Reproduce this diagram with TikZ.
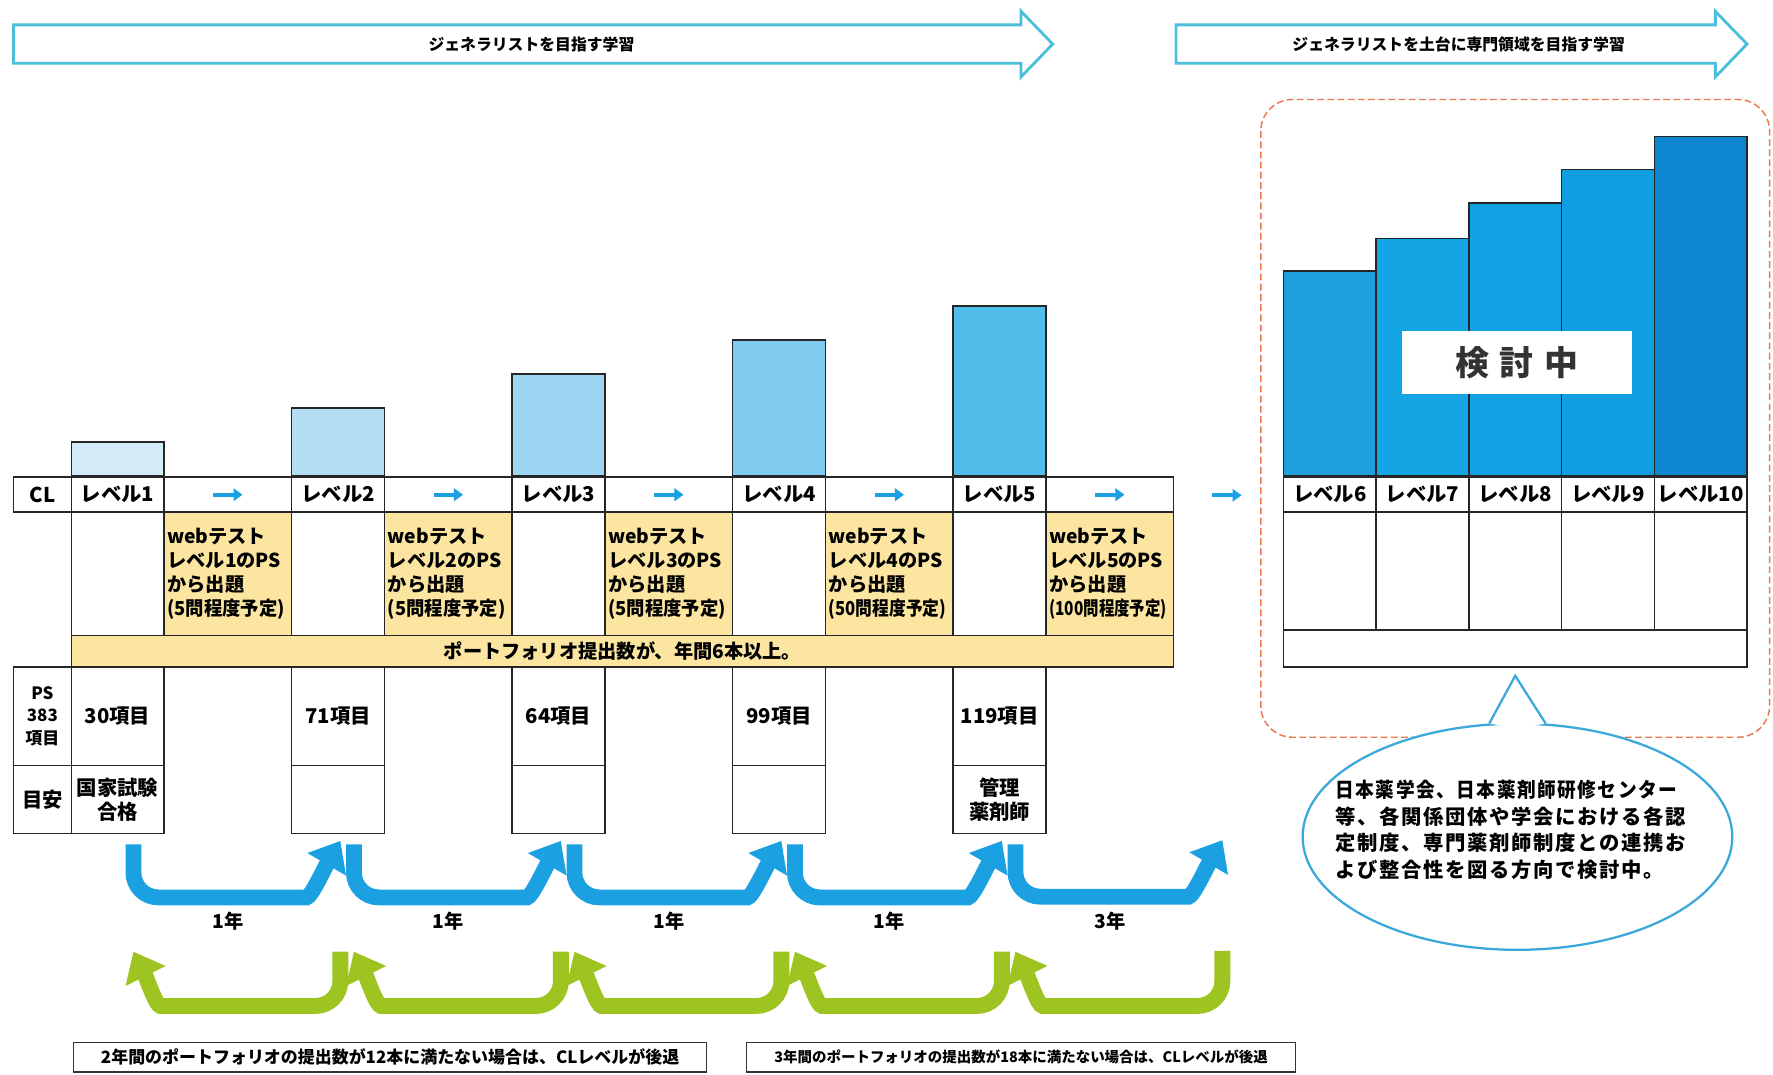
\documentclass[tikz,border=0pt]{standalone}
\usepackage{fontspec}
\usepackage{graphicx}
\setmainfont{Noto Sans CJK JP}
\newfontfamily\notefont{Noto Sans CJK JP}[LetterSpace=8]
\usetikzlibrary{arrows.meta,shapes.geometric}

\definecolor{aqualine}{HTML}{4BBFDA}
\definecolor{stepblue}{HTML}{1BA1E2}
\definecolor{backgreen}{HTML}{9DC420}
\definecolor{webyellow}{HTML}{FBE5A0}
\definecolor{planred}{HTML}{E9794F}
\definecolor{notecyan}{HTML}{3AA8DA}
\definecolor{lvA}{HTML}{D4EBF8}
\definecolor{lvB}{HTML}{B5DEF5}
\definecolor{lvC}{HTML}{9DD5F3}
\definecolor{lvD}{HTML}{80CBF0}
\definecolor{lvE}{HTML}{50BCEA}
\definecolor{lvF}{HTML}{1E9EDC}
\definecolor{lvG}{HTML}{14A5E5}
\definecolor{lvH}{HTML}{11A2E3}
\definecolor{lvI}{HTML}{0F9EE0}
\definecolor{lvJ}{HTML}{0C87CF}

\begin{document}
\begin{tikzpicture}[x=1pt, y=-1pt, >=stealth,
    cell/.style={draw=black!85, line width=1.3pt, inner sep=0pt, minimum width=82pt, align=center,
      font=\bfseries\fontsize{18}{21}\selectfont},
    gapcell/.style={cell, minimum width=113pt},
    webcell/.style={gapcell, fill=webyellow, minimum height=109pt, align=left,
      text width=107pt, font=\bfseries\fontsize{17}{21}\selectfont},
    bar/.style={draw=black!85, line width=1.3pt, minimum width=82pt, inner sep=0pt, anchor=south},
    goalarrow/.style={draw=aqualine, line width=2.5pt, fill=white, line join=miter},
    goaltext/.style={font=\bfseries\fontsize{14}{16}\selectfont},
    tinyarrow/.style={stepblue, line width=3.5pt, -{Triangle[length=8pt,width=11pt]}},
    upstep/.style={stepblue, line width=14pt, rounded corners=22pt, -{Triangle[length=24pt,width=38pt]}},
    downstep/.style={upstep, backgreen},
    yearlbl/.style={font=\bfseries\fontsize{17}{20}\selectfont},
    rulebox/.style={draw=black!80, line width=1pt, minimum height=26pt, inner sep=0pt}
  ]
    \fill[white] (0,0) rectangle (1568,950);
    \useasboundingbox (0,0) rectangle (1568,950);

    % learning stages
    \draw[goalarrow] (12,22) -- (903,22) -- (903,10) -- (931,39) -- (903,68) -- (903,56) -- (12,56) -- cycle;
    \node[goaltext] (goal1) at (470,39) {ジェネラリストを目指す学習};
    \draw[goalarrow] (1040,22) -- (1517,22) -- (1517,10) -- (1545,39) -- (1517,68) -- (1517,56) -- (1040,56) -- cycle;
    \node[goaltext] (goal2) at (1290,39) {ジェネラリストを土台に専門領域を目指す学習};

    \draw[planred, line width=1.3pt, dash pattern=on 6pt off 3pt, rounded corners=28pt] (1115,88) rectangle (1565,652);

    % levels 1-5
    \node[cell, minimum width=51pt, minimum height=31pt] (cl) at (37.5,437.5) {CL};
    \foreach \i/\q/\nps/\col/\ma in {1/5/30/lvA/{国家試験\\合格}, 2/5/71/lvB/{}, 3/5/64/lvC/{}, 4/50/99/lvD/{}, 5/100/119/lvE/{管理\\薬剤師}} {
        \pgfmathsetmacro{\cx}{104+195*(\i-1)}
        \node[cell, minimum height=31pt] (lv\i) at (\cx,437.5) {レベル\i};
        \node[bar, fill=\col, minimum height=30*\i] (bar\i) at (lv\i.north) {};
        \node[gapcell, minimum height=31pt] (gap\i) at (\cx+97.5,437.5) {};
        \node[cell, minimum height=109pt] (blank\i) at (\cx,507.5) {};
        \node[webcell] (web\i) at (\cx+97.5,507.5) {webテスト\\レベル\i のPS\\から出題\\\resizebox{104pt}{\height}{(\q 問程度予定)}};
        \node[cell, minimum height=87pt] (ps\i) at (\cx,633.5) {\nps 項目};
        \node[cell, minimum height=60pt] (ma\i) at (\cx,707) {\ma};
    }
    \node[cell, fill=webyellow, minimum width=975pt, minimum height=28pt, font=\bfseries\fontsize{17}{20}\selectfont] (pf) at (550.5,576) {ポートフォリオ提出数が、年間6本以上。};
    \node[cell, minimum width=51pt, minimum height=87pt, font=\bfseries\fontsize{15}{20}\selectfont] (psh) at (37.5,633.5) {PS\\383\\項目};
    \node[cell, minimum width=51pt, minimum height=60pt] (mah) at (37.5,707) {目安};

    % levels 6-10
    \foreach \j/\h/\col in {6/181/lvF, 7/210/lvG, 8/241/lvH, 9/271/lvI, 10/300/lvJ} {
        \pgfmathsetmacro{\cx}{1176+82*(\j-6)}
        \node[cell, minimum height=31pt] (lv\j) at (\cx,437.5) {レベル\j};
        \node[bar, fill=\col, minimum height=\h] (bar\j) at (lv\j.north) {};
        \node[cell, minimum height=104pt] (rw\j) at (\cx,505) {};
    }
    \node[cell, minimum width=410pt, minimum height=33pt] (rbot) at (1340,573.5) {};
    \node[fill=white, minimum width=203pt, minimum height=55pt, text=black!80, font=\bfseries\fontsize{30}{30}\selectfont] (kento) at (1341.5,320.5) {検\kern9pt 討\kern9pt 中};

    \foreach \i in {1,...,5}
        \draw[tinyarrow] ([xshift=-13pt]gap\i.center) -- ([xshift=13pt]gap\i.center);
    \coordinate (nextstep) at (1085,438);
    \draw[tinyarrow] ([xshift=-13pt]nextstep) -- ([xshift=13pt]nextstep);

    % speech bubble
    \node[ellipse, draw=notecyan, line width=2pt, fill=white, minimum width=380pt, minimum height=200pt, inner sep=0pt] (note) at (1342,740) {};
    \coordinate (tipc) at ([yshift=-7pt]rbot.south);
    \fill[white] (note.104) -- (tipc) -- (note.76) -- ([yshift=-5pt]note.north) -- cycle;
    \draw[notecyan, line width=2pt, line join=miter] (note.104) -- (tipc) -- (note.76);
    \node[align=left, font=\notefont\bfseries\fontsize{18}{23.5}\selectfont] (notetext) at (1336,734) {\resizebox{302pt}{\height}{日本薬学会、日本薬剤師研修センター}\\等、各関係団体や学会における各認\\定制度、専門薬剤師制度との連携お\\よび整合性を図る方向で検討中。};

    % up and down steps
    \foreach \i in {1,...,5}
        \coordinate (foot\i) at (ma\i.south);
    \coordinate (foot6) at (1079,737);
    \foreach \i [count=\j from 2] in {1,...,5} {
        \draw[upstep] ([shift={(14,9)}]foot\i) |- ([shift={(-50,56)}]foot\j) .. controls +(26,0) and +(-14,24) .. ([shift={(2,6)}]foot\j);
        \draw[downstep] ([shift={(2,104)}]foot\j) |- ([shift={(60,152)}]foot\i) .. controls +(-26,0) and +(12,24) .. ([shift={(14,104)}]foot\i);
    }
    \coordinate (yrline) at (0,815);
    \foreach \i/\yrs in {1/1, 2/1, 3/1, 4/1, 5/3}
        \node[yearlbl] (yr\i) at (gap\i.center |- yrline) {\yrs 年};

    \node[rulebox, minimum width=560pt, font=\bfseries\fontsize{15}{18}\selectfont] (rule2y) at (345,935) {2年間のポートフォリオの提出数が12本に満たない場合は、CLレベルが後退};
    \node[rulebox, minimum width=486pt, font=\bfseries\fontsize{12.8}{16}\selectfont] (rule3y) at (903,935) {3年間のポートフォリオの提出数が18本に満たない場合は、CLレベルが後退};
\end{tikzpicture}
\end{document}
